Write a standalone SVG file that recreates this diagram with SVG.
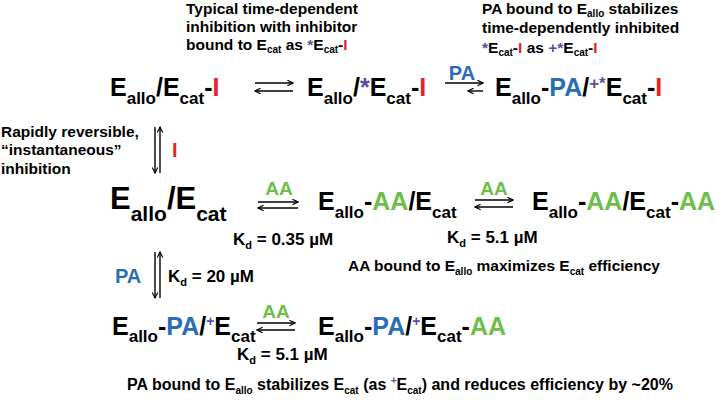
<svg xmlns="http://www.w3.org/2000/svg" width="722" height="400" viewBox="0 0 722 400">
<defs>
<style>
text{font-family:"Liberation Sans",Arial,sans-serif;font-weight:bold;fill:#000}
.n{font-size:25px}
.m{font-size:31px}
.sb{font-size:17px}
.sm{font-size:21px}
.lb{font-size:15.5px}
.ls{font-size:10px}
.kd{font-size:17px}
.kds{font-size:11px}
.al{font-size:19px}
.r{fill:#E3242B}
.b{fill:#2B6DB5}
.g{fill:#6DBE4B}
.p{fill:#5A4CA8}
.ar{stroke:#000;stroke-width:1.4;fill:none;marker-end:url(#ah)}
</style>
<marker id="ah" viewBox="0 0 10 10" refX="9" refY="5" markerWidth="7" markerHeight="7" orient="auto" markerUnits="userSpaceOnUse">
<path d="M1,1 L9,5 L1,9" fill="none" stroke="#000" stroke-width="1.6"/>
</marker>
</defs>

<g id="note-typical">
<text class="lb" x="186" y="14">Typical time-dependent</text>
<text class="lb" x="186" y="32">inhibition with inhibitor</text>
<text class="lb" x="186" y="50">bound to E<tspan class="ls" dy="3">cat</tspan><tspan dy="-3"> as </tspan><tspan class="p">*</tspan>E<tspan class="ls" dy="3">cat</tspan><tspan dy="-3">-</tspan><tspan class="r">I</tspan></text>
</g>

<g id="note-pa-stab">
<text class="lb" x="482" y="14">PA bound to E<tspan class="ls" dy="3">allo</tspan><tspan dy="-3"> stabilizes</tspan></text>
<text class="lb" x="482" y="33">time-dependently inhibited</text>
<text class="lb" x="482" y="53"><tspan class="p">*</tspan>E<tspan class="ls" dy="3">cat</tspan><tspan dy="-3">-</tspan><tspan class="r">I</tspan> as <tspan class="p">+*</tspan>E<tspan class="ls" dy="3">cat</tspan><tspan dy="-3">-</tspan><tspan class="r">I</tspan></text>
</g>

<g id="note-rapid">
<text class="lb" x="1" y="137">Rapidly reversible,</text>
<text class="lb" x="1" y="155">“instantaneous”</text>
<text class="lb" x="1" y="174">inhibition</text>
</g>

<g id="node-a">
<text class="n" x="110" y="96">E<tspan class="sb" dy="8">allo</tspan><tspan dy="-8">/E</tspan><tspan class="sb" dy="8">cat</tspan><tspan dy="-8">-</tspan><tspan class="r">I</tspan></text>
</g>
<g id="node-b">
<text class="n" x="307" y="96">E<tspan class="sb" dy="8">allo</tspan><tspan dy="-8">/</tspan><tspan class="p">*</tspan>E<tspan class="sb" dy="8">cat</tspan><tspan dy="-8">-</tspan><tspan class="r">I</tspan></text>
</g>
<g id="node-c">
<text class="n" x="495" y="96">E<tspan class="sb" dy="8">allo</tspan><tspan dy="-8">-</tspan><tspan class="b">PA</tspan>/<tspan class="p" font-size="17" dy="-7">+*</tspan><tspan dy="7">E</tspan><tspan class="sb" dy="8">cat</tspan><tspan dy="-8">-</tspan><tspan class="r">I</tspan></text>
</g>

<g id="node-d">
<text class="m" x="110" y="209">E<tspan class="sm" dy="12">allo</tspan><tspan dy="-12">/E</tspan><tspan class="sm" dy="12">cat</tspan></text>
</g>
<g id="node-e">
<text class="n" x="318" y="210">E<tspan class="sb" dy="8">allo</tspan><tspan dy="-8">-</tspan><tspan class="g">AA</tspan>/E<tspan class="sb" dy="8">cat</tspan></text>
</g>
<g id="node-f">
<text class="n" x="532" y="210">E<tspan class="sb" dy="8">allo</tspan><tspan dy="-8">-</tspan><tspan class="g">AA</tspan>/E<tspan class="sb" dy="8">cat</tspan><tspan dy="-8">-</tspan><tspan class="g">AA</tspan></text>
</g>

<g id="node-g">
<text class="n" x="112" y="335">E<tspan class="sb" dy="7">allo</tspan><tspan dy="-7">-</tspan><tspan class="b">PA</tspan>/<tspan class="p" font-size="14" dy="-9">+</tspan><tspan dy="9">E</tspan><tspan class="sb" dy="7">cat</tspan></text>
</g>
<g id="node-h">
<text class="n" x="318" y="335">E<tspan class="sb" dy="7">allo</tspan><tspan dy="-7">-</tspan><tspan class="b">PA</tspan>/<tspan class="p" font-size="14" dy="-9">+</tspan><tspan dy="9">E</tspan><tspan class="sb" dy="7">cat</tspan><tspan dy="-7">-</tspan><tspan class="g">AA</tspan></text>
</g>

<g id="connectors">
<line class="ar" x1="255" y1="83" x2="293" y2="83"/>
<line class="ar" x1="293" y1="91" x2="255" y2="91"/>

<line class="ar" x1="445" y1="83" x2="483" y2="83"/>
<line class="ar" x1="483" y1="91" x2="468" y2="91"/>
<text class="b" font-size="20" x="462" y="80" text-anchor="middle">PA</text>

<line class="ar" x1="155" y1="127" x2="155" y2="173"/>
<line class="ar" x1="160" y1="173" x2="160" y2="127"/>
<text class="r" font-size="20" x="172" y="157">I</text>

<line class="ar" x1="258" y1="202" x2="298" y2="202"/>
<line class="ar" x1="298" y1="208" x2="258" y2="208"/>
<text class="g al" x="279" y="195" text-anchor="middle">AA</text>
<text class="kd" x="233" y="245">K<tspan class="kds" dy="4">d</tspan><tspan dy="-4"> = 0.35 µM</tspan></text>

<line class="ar" x1="475" y1="200" x2="513" y2="200"/>
<line class="ar" x1="513" y1="207" x2="475" y2="207"/>
<text class="g al" x="494" y="195" text-anchor="middle">AA</text>
<text class="kd" x="447" y="243">K<tspan class="kds" dy="4">d</tspan><tspan dy="-4"> = 5.1 µM</tspan></text>

<line class="ar" x1="155" y1="252" x2="155" y2="298"/>
<line class="ar" x1="160" y1="298" x2="160" y2="252"/>
<text class="b" font-size="20" x="115" y="283">PA</text>
<text class="kd" x="168" y="282">K<tspan class="kds" dy="4">d</tspan><tspan dy="-4"> = 20 µM</tspan></text>

<line class="ar" x1="257" y1="323" x2="295" y2="323"/>
<line class="ar" x1="295" y1="330" x2="257" y2="330"/>
<text class="g al" x="276" y="318" text-anchor="middle">AA</text>
<text class="kd" x="237" y="360">K<tspan class="kds" dy="4">d</tspan><tspan dy="-4"> = 5.1 µM</tspan></text>
</g>

<g id="note-aa">
<text class="lb" x="348" y="271">AA bound to E<tspan class="ls" dy="4">allo</tspan><tspan dy="-4"> maximizes E</tspan><tspan class="ls" dy="4">cat</tspan><tspan dy="-4"> efficiency</tspan></text>
</g>
<g id="note-pa">
<text font-size="16" x="127" y="390">PA bound to E<tspan class="ls" dy="4">allo</tspan><tspan dy="-4"> stabilizes E</tspan><tspan class="ls" dy="4">cat</tspan><tspan dy="-4"> (as </tspan><tspan class="p" font-size="10" dy="-6">+</tspan><tspan dy="6">E</tspan><tspan class="ls" dy="4">cat</tspan><tspan dy="-4">) and reduces efficiency by ~20%</tspan></text>
</g>
</svg>
